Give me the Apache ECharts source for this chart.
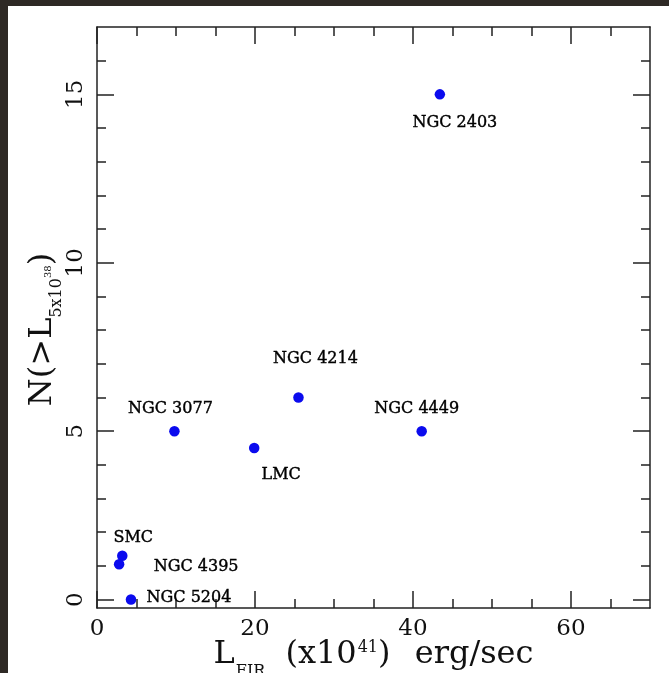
<!DOCTYPE html>
<html>
<head>
<meta charset="utf-8">
<script src="https://cdn.jsdelivr.net/npm/echarts@6/dist/echarts.min.js"></script>
<style>
  html, body { margin: 0; padding: 0; background: #fff; }
  #chart { width: 669px; height: 673px; }
</style>
</head>
<body>
<div id="chart"></div>
<script>
// data
const galaxies = ['NGC 2403', 'NGC 4214', 'NGC 3077', 'NGC 4449', 'LMC', 'SMC', 'NGC 4395', 'NGC 5204'];
const firLuminosity = [43.4, 25.5, 9.8, 41.1, 19.9, 3.2, 2.8, 4.3];
const sourceCount = [15, 6, 5, 5, 4.5, 1.3, 1.05, 0];

const xMajorTicks = [0, 20, 40, 60];
const xMinorTicks = [5, 10, 15, 25, 30, 35, 45, 50, 55, 65];
const yMajorTicks = [0, 5, 10, 15];
const yMinorTicks = [1, 2, 3, 4, 6, 7, 8, 9, 11, 12, 13, 14, 16];

// where each name sits relative to its dot (px)
const labelOffsets = {
  'NGC 2403': [15, 28],
  'NGC 4214': [17, -39],
  'NGC 3077': [-4, -22],
  'NGC 4449': [-5, -22],
  'LMC': [27, 27],
  'SMC': [11, -18],
  'NGC 4395': [77, 3],
  'NGC 5204': [58, -2]
};

const FONT = 'DejaVu Serif';
const INK = '#222';

const chart = echarts.init(document.getElementById('chart'));

// one axis per tick set, so the frame gets long major and short minor ticks on all sides
function xAxisFor(position, ticks, len, main) {
  return {
    type: 'value', position: position, min: 0, max: 70,
    axisLine: { show: main, onZero: false, lineStyle: { color: INK, width: 1.5 } },
    axisTick: { show: true, inside: true, length: len, customValues: ticks, lineStyle: { color: INK, width: 1.5 } },
    axisLabel: main && position === 'bottom'
      ? { show: true, customValues: ticks, margin: 10, fontFamily: FONT, fontSize: 23, color: '#111' }
      : { show: false },
    splitLine: { show: false }
  };
}
function yAxisFor(position, ticks, len, main) {
  return {
    type: 'value', position: position, min: -0.25, max: 17,
    axisLine: { show: main, onZero: false, lineStyle: { color: INK, width: 1.5 } },
    axisTick: { show: true, inside: true, length: len, customValues: ticks, lineStyle: { color: INK, width: 1.5 } },
    axisLabel: main && position === 'left'
      ? { show: true, customValues: ticks, rotate: 90, margin: 9, fontFamily: FONT, fontSize: 23, color: '#111' }
      : { show: false },
    splitLine: { show: false }
  };
}

const xAxes = [
  xAxisFor('bottom', xMajorTicks, 17, true),
  xAxisFor('bottom', xMinorTicks, 9, false),
  xAxisFor('top', xMajorTicks, 17, true),
  xAxisFor('top', xMinorTicks, 9, false)
];
xAxes[0].name = '{m|L}{sub|FIR}{m| (x10}{sup|41}{m|)}{e| erg/sec}';
xAxes[0].nameLocation = 'middle';
xAxes[0].nameGap = 22;
xAxes[0].nameMoveOverlap = false;
xAxes[0].nameTextStyle = {
  fontFamily: FONT, fontSize: 32, color: '#111',
  rich: {
    m: { fontFamily: FONT, fontSize: 32, lineHeight: 50, color: '#111' },
    e: { fontFamily: FONT, fontSize: 32, lineHeight: 50, padding: [0, 0, 0, 14], color: '#111' },
    sub: { fontFamily: FONT, fontSize: 16, lineHeight: 16, verticalAlign: 'bottom', padding: [0, 10, 0, 1], color: '#111' },
    sup: { fontFamily: FONT, fontSize: 16, lineHeight: 16, verticalAlign: 'top', padding: [10, 0, 0, 1], color: '#111' }
  }
};

const yAxes = [
  yAxisFor('left', yMajorTicks, 17, true),
  yAxisFor('left', yMinorTicks, 9, false),
  yAxisFor('right', yMajorTicks, 17, true),
  yAxisFor('right', yMinorTicks, 9, false)
];
yAxes[0].name = '{m|N(>L}{sub|5x10}{sup|38}{m|)}';
yAxes[0].nameLocation = 'middle';
yAxes[0].nameRotate = 90;
yAxes[0].nameGap = 32;
yAxes[0].nameMoveOverlap = false;
yAxes[0].nameTextStyle = {
  fontFamily: FONT, fontSize: 32, color: '#111',
  padding: [0, 24, 0, 0],
  rich: {
    m: { fontFamily: FONT, fontSize: 32, lineHeight: 44, color: '#111' },
    sub: { fontFamily: FONT, fontSize: 16, lineHeight: 16, verticalAlign: 'bottom', color: '#111' },
    sup: { fontFamily: FONT, fontSize: 10, lineHeight: 10, verticalAlign: 'top', padding: [22, 0, 0, 0], color: '#111' }
  }
};

const option = {
  animation: false,
  backgroundColor: '#fff',
  grid: { left: 97, right: 19, top: 27, bottom: 65, outerBoundsMode: 'none' },
  graphic: [
    // dark surround of the scanned figure
    { type: 'rect', left: 0, top: 0, shape: { width: 8, height: 673 }, style: { fill: '#2e2925' } },
    { type: 'rect', left: 0, top: 0, shape: { width: 669, height: 6 }, style: { fill: '#2e2925' } }
  ],
  xAxis: xAxes,
  yAxis: yAxes,
  series: [
    {
      type: 'scatter',
      xAxisIndex: 0,
      yAxisIndex: 0,
      symbol: 'circle',
      symbolSize: 10.5,
      itemStyle: { color: '#0b0bee', opacity: 1 },
      data: galaxies.map((name, i) => ({
        name: name,
        value: [firLuminosity[i], sourceCount[i]],
        label: { offset: labelOffsets[name] }
      })),
      label: {
        show: true,
        position: 'inside',
        formatter: (p) => p.name,
        fontFamily: FONT,
        fontSize: 16,
        color: '#000',
        textBorderColor: '#000',
        textBorderWidth: 0.4,
        opacity: 1
      }
    }
  ]
};
chart.setOption(option);
</script>
</body>
</html>
